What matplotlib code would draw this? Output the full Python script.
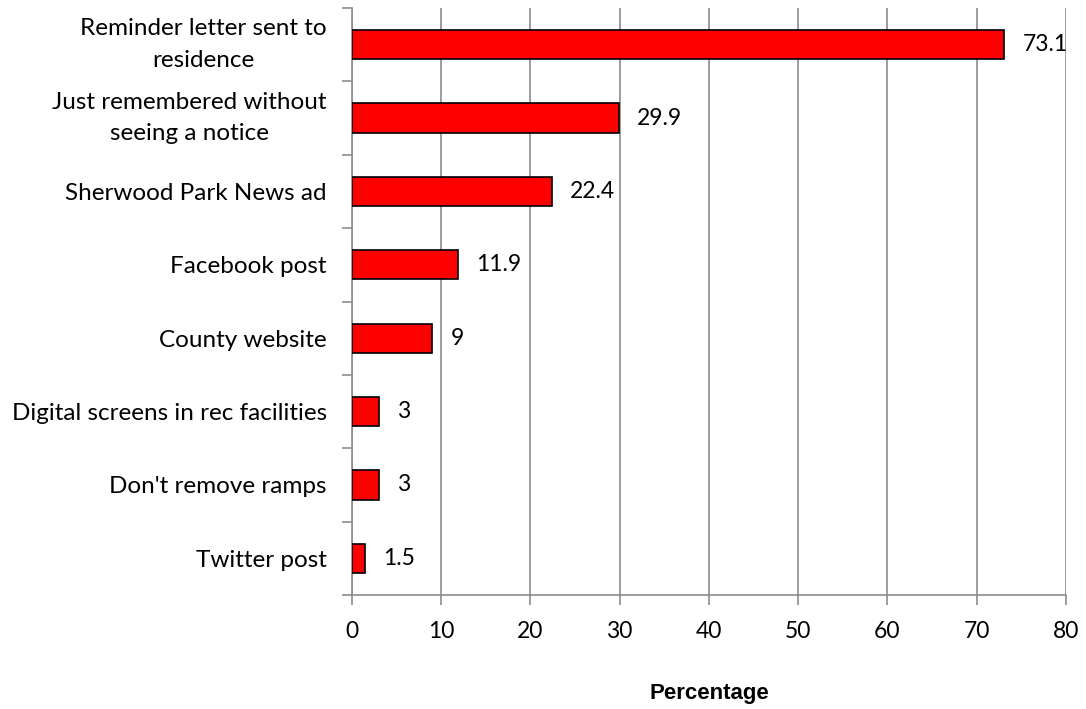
import numpy as np
import matplotlib.pyplot as plt

categories = ['Reminder letter sent to\nresidence',
              'Just remembered without\nseeing a notice',
              'Sherwood Park News ad',
              'Facebook post',
              'County website',
              'Digital screens in rec facilities',
              "Don't remove ramps",
              'Twitter post']
values = [73.1, 29.9, 22.4, 11.9, 9, 3, 3, 1.5]
value_labels = ['73.1', '29.9', '22.4', '11.9', '9', '3', '3', '1.5']

plt.rcParams['font.family'] = ['Lato', 'DejaVu Sans']

fig = plt.figure(figsize=(10.86, 7.09), dpi=100)
ax = fig.add_axes([0.324, 0.1608, 0.6576, 0.8279])

gray = '#8c8c8c'
y = np.arange(len(categories))
ax.barh(y, values, height=0.4, color='#ff0000', edgecolor='black', linewidth=1.2, zorder=3)
for yi, v, lab in zip(y, values, value_labels):
    ax.annotate(lab, (v, yi), xytext=(13, 0), textcoords='offset points',
                ha='left', va='center', fontsize=16.5)

ax.set_ylim(len(categories) - 0.5, -0.5)
ax.set_xlim(0, 80)
ax.set_xticks(np.arange(0, 81, 10))
ax.set_yticks(y)
ax.set_yticklabels(categories, fontsize=17.5, ha='right', multialignment='center', linespacing=1.62)
for t in ax.get_yticklabels():
    if '\n' in t.get_text():
        t.set_va('center')
ax.set_yticks(np.arange(-0.5, len(categories), 1), minor=True)
ax.tick_params(axis='y', which='major', length=0, pad=18)
ax.tick_params(axis='y', which='minor', length=7, color=gray, width=1.2)
ax.tick_params(axis='x', length=7, color=gray, width=1.2, labelsize=16.5, pad=12)
ax.grid(axis='x', color=gray, linewidth=1.2, zorder=0)

for s in ['top', 'right']:
    ax.spines[s].set_visible(False)
for s in ['left', 'bottom']:
    ax.spines[s].set_color(gray)
    ax.spines[s].set_linewidth(1.2)

ax.set_xlabel('Percentage', fontsize=16, fontweight='bold', family='Liberation Sans', labelpad=29)

fig.savefig('out.png', dpi=100)
